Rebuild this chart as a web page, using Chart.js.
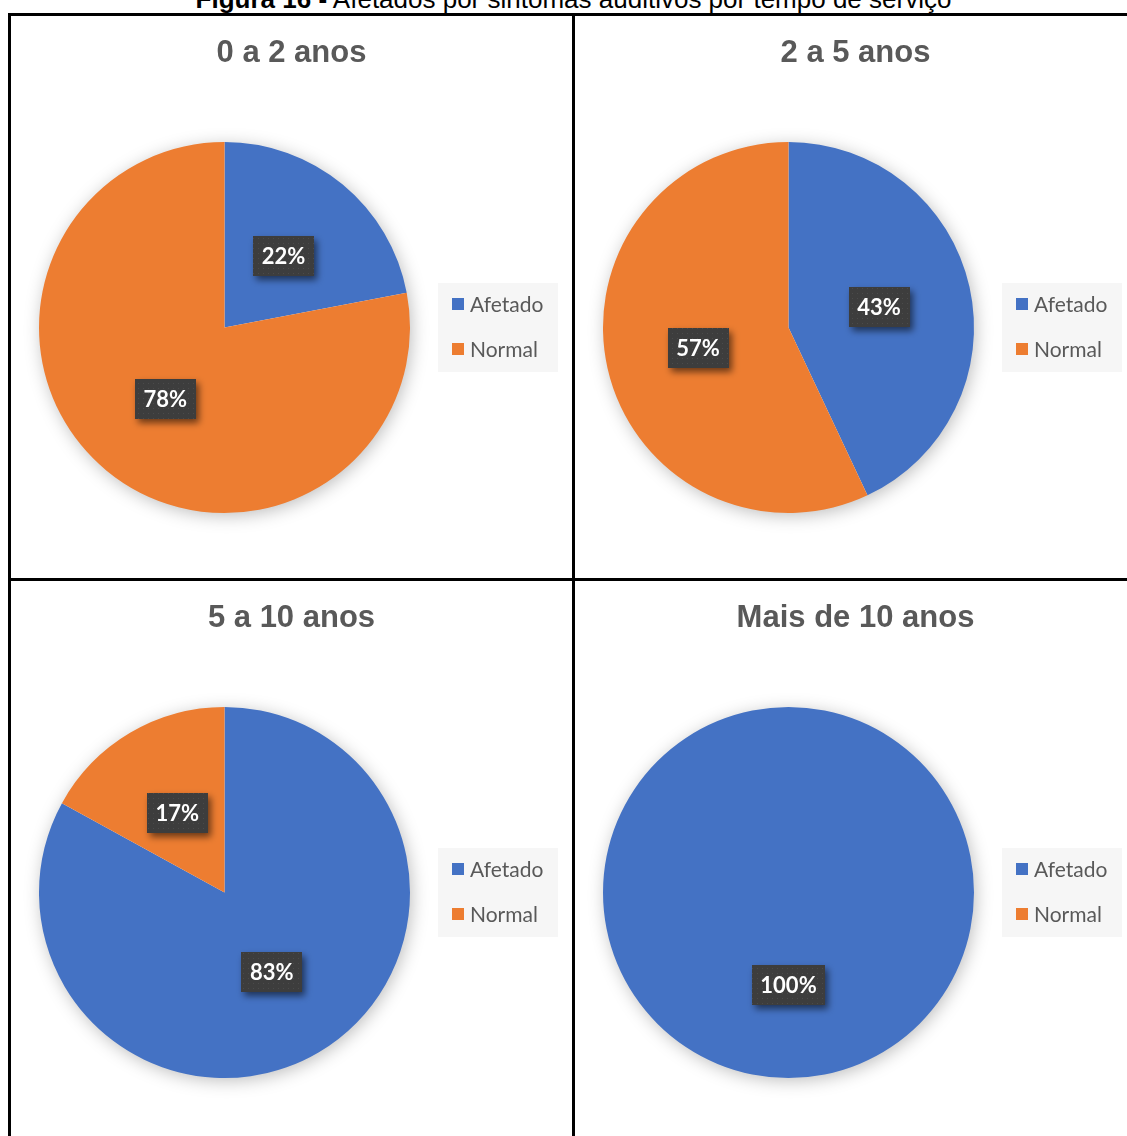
<!DOCTYPE html>
<html lang="pt">
<head>
<meta charset="utf-8">
<title>Afetados por sintomas auditivos por tempo de serviço</title>
<script src="https://cdn.jsdelivr.net/npm/chart.js@4.4.1/dist/chart.umd.min.js"></script>
<style>
  html, body { margin: 0; padding: 0; background: #fff; }
  body { width: 1127px; height: 1136px; position: relative; overflow: hidden; }
  #caption {
    position: absolute; left: 0; top: -14px; width: 1147px;
    text-align: center; font: 26px/26px "Liberation Sans", Arial, sans-serif;
    color: #000; white-space: nowrap;
  }
  #caption b { font-weight: bold; }
  .rule { position: absolute; background: #000; }
  canvas.panel { position: absolute; }
</style>
</head>
<body>
<div id="caption"><b>Figura 16 -</b> Afetados por sintomas auditivos por tempo de serviço</div>

<div class="rule" style="left:8px;top:13px;width:1130px;height:3px"></div>
<div class="rule" style="left:8px;top:13px;width:3px;height:1130px"></div>
<div class="rule" style="left:572px;top:13px;width:3px;height:1130px"></div>
<div class="rule" style="left:8px;top:578px;width:1130px;height:3px"></div>

<canvas class="panel" id="p0" width="561" height="562" style="left:11px;top:16px"></canvas>
<canvas class="panel" id="p1" width="561" height="562" style="left:575px;top:16px"></canvas>
<canvas class="panel" id="p2" width="561" height="562" style="left:11px;top:581px"></canvas>
<canvas class="panel" id="p3" width="561" height="562" style="left:575px;top:581px"></canvas>

<script>
// Service-time groups and share of workers per group (percent)
const panelTitles = ['0 a 2 anos', '2 a 5 anos', '5 a 10 anos', 'Mais de 10 anos'];
const categories = ['Afetado', 'Normal'];
const afetado = [22, 43, 83, 100];
const normal = [78, 57, 17, 0];
const seriesColors = ['#4472C4', '#ED7D31'];

// Dark textured fill for the value callouts
function makeCalloutPattern(ctx) {
  const c = document.createElement('canvas');
  c.width = 5; c.height = 5;
  const g = c.getContext('2d');
  g.fillStyle = '#3d3d3d';
  g.fillRect(0, 0, 5, 5);
  g.fillStyle = '#4b4b4b';
  g.fillRect(2, 2, 1, 1);
  return ctx.createPattern(c, 'repeat');
}

// Panel heading, centred across the whole panel width
const panelHeading = {
  id: 'panelHeading',
  afterDraw(chart, args, opts) {
    const ctx = chart.ctx;
    ctx.save();
    ctx.font = 'bold 31px "Liberation Sans", Arial, sans-serif';
    ctx.fillStyle = '#595959';
    ctx.textAlign = 'center';
    ctx.textBaseline = 'middle';
    ctx.fillText(opts.text, chart.width / 2, 37);
    ctx.restore();
  }
};

// Soft drop shadow behind the whole pie
const pieShadow = {
  id: 'pieShadow',
  beforeDatasetsDraw(chart) {
    const arc = chart.getDatasetMeta(0).data[0];
    if (!arc) return;
    const ctx = chart.ctx;
    ctx.save();
    ctx.shadowColor = 'rgba(0,0,0,0.28)';
    ctx.shadowBlur = 18;
    ctx.shadowOffsetX = 2;
    ctx.shadowOffsetY = 3;
    ctx.fillStyle = '#ffffff';
    ctx.beginPath();
    ctx.arc(arc.x, arc.y, arc.outerRadius - 1, 0, Math.PI * 2);
    ctx.fill();
    ctx.restore();
  }
};

// Percentage callouts placed at each slice's centroid
const sliceLabels = {
  id: 'sliceLabels',
  afterDatasetsDraw(chart) {
    const ctx = chart.ctx;
    const ds = chart.data.datasets[0];
    const meta = chart.getDatasetMeta(0);
    if (!chart.$pattern) chart.$pattern = makeCalloutPattern(ctx);
    ctx.save();
    ctx.font = 'bold 22px Lato, "Open Sans", sans-serif';
    ctx.textAlign = 'center';
    ctx.textBaseline = 'middle';
    meta.data.forEach((el, i) => {
      const v = ds.data[i];
      if (!v) return;
      const p = el.tooltipPosition();
      const txt = v + '%';
      const w = ctx.measureText(txt).width + 17;
      const h = 40;
      ctx.save();
      ctx.shadowColor = 'rgba(0,0,0,0.55)';
      ctx.shadowBlur = 7;
      ctx.shadowOffsetX = 3;
      ctx.shadowOffsetY = 4;
      ctx.fillStyle = chart.$pattern;
      ctx.fillRect(Math.round(p.x - w / 2), Math.round(p.y - h / 2), Math.round(w), h);
      ctx.restore();
      ctx.fillStyle = '#ffffff';
      ctx.fillText(txt, p.x, p.y + 1);
    });
    ctx.restore();
  }
};

// Legend drawn on a light panel to the right of the pie
const sideLegend = {
  id: 'sideLegend',
  afterDraw(chart) {
    const ctx = chart.ctx;
    const colors = chart.data.datasets[0].backgroundColor;
    ctx.save();
    ctx.fillStyle = '#f6f6f6';
    ctx.fillRect(427, 267, 120, 89);
    ctx.font = '21px Lato, "Open Sans", sans-serif';
    ctx.textBaseline = 'middle';
    chart.data.labels.forEach((lab, i) => {
      const cy = 288 + i * 45;
      ctx.fillStyle = colors[i];
      ctx.fillRect(441, cy - 6, 12, 12);
      ctx.fillStyle = '#595959';
      ctx.fillText(lab, 459, cy + 1);
    });
    ctx.restore();
  }
};

panelTitles.forEach((title, k) => {
  new Chart(document.getElementById('p' + k), {
    type: 'pie',
    data: {
      labels: categories,
      datasets: [{
        data: [afetado[k], normal[k]],
        backgroundColor: seriesColors,
        borderWidth: 0
      }]
    },
    options: {
      responsive: false,
      devicePixelRatio: 1,
      animation: false,
      events: [],
      layout: { padding: { left: 28, right: 162, top: 126, bottom: 65 } },
      plugins: {
        legend: { display: false },
        tooltip: { enabled: false },
        title: { display: false },
        panelHeading: { text: title }
      }
    },
    plugins: [panelHeading, pieShadow, sliceLabels, sideLegend]
  });
});
</script>
</body>
</html>
